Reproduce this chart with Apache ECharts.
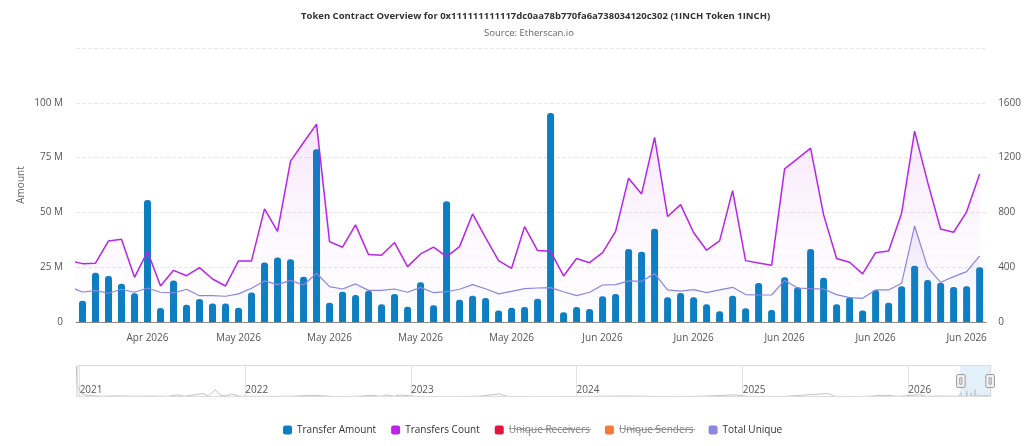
<!DOCTYPE html>
<html>
<head>
<meta charset="utf-8">
<title>1INCH token overview</title>
<script src="https://cdn.jsdelivr.net/npm/echarts@6/dist/echarts.min.js"></script>
<style>
  html, body { margin: 0; padding: 0; background: #fff; }
  #chart { width: 1024px; height: 446px; }
</style>
</head>
<body>
<div id="chart"></div>
<script>
// daily values, first entry is the day before the visible window (only its lines show, clipped at the edge)
const firstDay = '2026-04-21';

const transferAmount = [null, // million
  9.7, 22.5, 21.0, 17.4, 13.1, 55.7, 6.4, 18.9, 7.9, 10.5,
  8.4, 8.4, 6.5, 13.5, 27.2, 29.4, 28.6, 20.7, 78.8, 8.8,
  13.8, 12.3, 14.3, 8.1, 12.8, 7.0, 18.1, 7.6, 55.1, 10.2,
  12.0, 11.0, 5.2, 6.5, 6.9, 10.6, 95.3, 4.4, 6.8, 5.9,
  11.7, 12.8, 33.3, 32.0, 42.5, 11.3, 13.2, 11.3, 8.1, 4.9,
  12.0, 6.3, 17.8, 5.5, 20.4, 15.8, 33.3, 20.2, 8.1, 11.3,
  5.2, 14.6, 8.8, 16.3, 25.7, 19.2, 17.9, 16.0, 16.3, 25.0];

const transfersCount = [446,
  426, 429, 592, 604, 326, 514, 263, 377, 338, 397,
  314, 263, 446, 446, 826, 662, 1174, 1310, 1444, 587,
  546, 709, 492, 487, 580, 404, 497, 546, 477, 550,
  789, 616, 448, 392, 696, 521, 516, 336, 463, 433,
  506, 662, 1050, 935, 1347, 770, 857, 653, 524, 592,
  959, 448, 431, 414, 1118, 1193, 1269, 782, 463, 436,
  351, 506, 519, 794, 1393, 1021, 679, 655, 804, 1081];

const totalUnique = [257,
  219, 229, 210, 239, 217, 248, 217, 212, 239, 192,
  192, 188, 205, 246, 300, 273, 304, 270, 356, 258,
  241, 278, 231, 231, 241, 217, 253, 214, 221, 239,
  273, 243, 205, 224, 243, 248, 251, 221, 192, 217,
  270, 273, 300, 297, 353, 234, 226, 236, 214, 234,
  253, 200, 197, 197, 304, 248, 243, 241, 200, 178,
  173, 234, 234, 283, 701, 399, 290, 331, 368, 482];

// hidden in the legend of the original, no data shown
const uniqueReceivers = [];
const uniqueSenders = [];

// overview strip (navigator), sparse readings of transfer amount, million
const navDates = ['2020-12-25', '2020-12-27', '2021-01-05', '2021-01-20', '2021-02-20', '2021-03-25',
  '2021-05-01', '2021-06-10', '2021-07-15', '2021-08-03', '2021-08-20', '2021-09-30', '2021-10-12',
  '2021-10-27', '2021-11-08', '2021-11-20', '2021-12-02', '2021-12-20', '2022-02-15', '2022-04-10',
  '2022-05-30', '2022-07-15', '2022-09-01', '2022-10-09', '2022-10-25', '2022-11-10', '2022-11-25',
  '2022-12-08', '2023-01-15', '2023-04-01', '2023-06-01', '2023-07-15', '2023-08-01', '2023-10-15',
  '2024-01-20', '2024-04-15', '2024-07-10', '2024-10-01', '2024-12-15', '2025-01-10', '2025-04-01',
  '2025-07-08', '2025-07-25', '2025-10-01', '2025-11-05', '2025-11-20', '2025-12-10', '2026-01-26',
  '2026-02-10', '2026-03-15'];
const navAmounts = [390, 150, 40, 18, 10, 14,
  9, 12, 8, 28, 10, 45, 12,
  95, 20, 14, 38, 10, 8, 9,
  22, 7, 8, 22, 8, 28, 9,
  26, 7, 6, 10, 40, 8, 6,
  8, 12, 7, 9, 28, 8, 7,
  45, 8, 7, 22, 20, 8, 30,
  9, 12];
const navStart = '2020-12-24';
const navEnd = '2026-06-30';

const colors = {
  amount: '#0b7fc1',
  count: '#b924e6',
  receivers: '#e4163f',
  senders: '#f47a3c',
  unique: '#8a87e0'
};

// build the day categories
const days = [];
(function () {
  const d = new Date(firstDay + 'T00:00:00Z');
  for (let i = 0; i < transferAmount.length; i++) {
    days.push(d.toISOString().slice(0, 10));
    d.setUTCDate(d.getUTCDate() + 1);
  }
})();

const monthNames = ['Jan', 'Feb', 'Mar', 'Apr', 'May', 'Jun', 'Jul', 'Aug', 'Sep', 'Oct', 'Nov', 'Dec'];
function monthLabel(s) {
  return monthNames[parseInt(s.slice(5, 7), 10) - 1] + ' ' + s.slice(0, 4);
}
function weekly(idx) {
  return idx % 7 === 6;
}

const navData = navDates.map((d, i) => [d, navAmounts[i]]);
days.forEach((d, i) => {
  if (transferAmount[i] != null) navData.push([d, transferAmount[i]]);
});

const t0 = Date.parse(navStart);
const t1 = Date.parse(navEnd);
const winStart = (Date.parse(days[1]) - t0) / (t1 - t0) * 100;
const winEnd = (Date.parse(days[days.length - 1]) - t0) / (t1 - t0) * 100;

const hiddenNames = ['Unique Receivers', 'Unique Senders'];
function strike(s) {
  return s.split('').map(c => c + '\u0336').join('');
}

function areaFade(hex, a) {
  const r = parseInt(hex.slice(1, 3), 16), g = parseInt(hex.slice(3, 5), 16), b = parseInt(hex.slice(5, 7), 16);
  const c = alpha => 'rgba(' + r + ',' + g + ',' + b + ',' + alpha + ')';
  return new echarts.graphic.LinearGradient(0, 0, 0, 1, [
    { offset: 0, color: c(a) },
    { offset: 0.6, color: c(a * 0.25) },
    { offset: 1, color: c(0) }
  ]);
}

const chart = echarts.init(document.getElementById('chart'));

chart.setOption({
  animation: false,
  textStyle: { fontFamily: 'Open Sans' },
  title: [{
    text: 'Token Contract Overview for 0x111111111117dc0aa78b770fa6a738034120c302 (1INCH Token 1INCH)',
    left: 296,
    top: 6,
    textStyle: { fontSize: 9.5, fontWeight: 'bold', color: '#333' }
  }, {
    text: 'Source: Etherscan.io',
    left: 479,
    top: 23,
    textStyle: { fontSize: 9.5, fontWeight: 'normal', color: '#666' }
  }],
  legend: {
    data: ['Transfer Amount', 'Transfers Count', 'Unique Receivers', 'Unique Senders', 'Total Unique'],
    left: 278,
    bottom: 6,
    icon: 'roundRect',
    itemWidth: 9,
    itemHeight: 9,
    itemGap: 15,
    textStyle: {
      fontSize: 10,
      color: '#333',
      rich: { off: { fontSize: 10, color: '#888', fontFamily: "'Noto Sans', 'DejaVu Sans', sans-serif" } }
    },
    formatter: name => hiddenNames.indexOf(name) >= 0 ? '{off|' + strike(name) + '}' : name
  },
  grid: [
    { left: 76, right: 34, top: 48, bottom: 124 },
    { left: 76, right: 34, top: 366, height: 31 }
  ],
  xAxis: [{
    type: 'category',
    data: days,
    boundaryGap: true,
    axisLine: { lineStyle: { color: '#8a8a8a' } },
    axisTick: { alignWithLabel: true, interval: weekly, length: 5, lineStyle: { color: '#8a8a8a' } },
    axisLabel: { interval: weekly, formatter: monthLabel, color: '#555', fontSize: 10, margin: 11 }
  }, {
    type: 'time',
    gridIndex: 1,
    min: navStart,
    max: navEnd,
    minInterval: 365 * 24 * 3600 * 1000,
    maxInterval: 366 * 24 * 3600 * 1000,
    axisLine: { show: false },
    axisTick: { show: false },
    splitLine: { show: true, lineStyle: { color: '#e2e2e2' } },
    axisLabel: {
      inside: true,
      formatter: '{yyyy}',
      align: 'left',
      margin: 2,
      color: '#555',
      fontSize: 10,
      showMinLabel: false,
      showMaxLabel: false
    }
  }, {
    type: 'value',
    gridIndex: 1,
    min: 0,
    max: 100,
    show: false
  }],
  yAxis: [{
    type: 'value',
    min: 0,
    max: 125,
    interval: 25,
    name: 'Amount',
    nameLocation: 'middle',
    nameGap: 50,
    nameMoveOverlap: false,
    nameTextStyle: { color: '#666', fontSize: 10 },
    axisLabel: {
      color: '#555',
      fontSize: 10,
      margin: 13,
      showMaxLabel: false,
      formatter: v => v === 0 ? '0' : v + ' M'
    },
    splitLine: { lineStyle: { type: 'dashed', color: '#e8e8e8' } }
  }, {
    type: 'value',
    min: 0,
    max: 2000,
    interval: 400,
    axisLabel: { color: '#555', fontSize: 10, margin: 12, showMaxLabel: false, formatter: v => String(v) },
    splitLine: { show: false }
  }, {
    type: 'value',
    gridIndex: 1,
    min: 0,
    max: 400,
    show: false
  }],
  dataZoom: [{
    type: 'inside',
    xAxisIndex: 0,
    startValue: 1,
    endValue: days.length - 1,
    filterMode: 'none',
    zoomOnMouseWheel: false,
    moveOnMouseMove: false,
    moveOnMouseWheel: false
  }, {
    type: 'slider',
    xAxisIndex: 2,
    start: winStart,
    end: winEnd,
    left: 76,
    right: 34,
    top: 365,
    height: 32,
    showDataShadow: false,
    showDetail: false,
    brushSelect: false,
    moveHandleSize: 0,
    backgroundColor: 'rgba(0,0,0,0)',
    borderColor: '#dddddd',
    fillerColor: 'rgba(175,212,240,0.35)',
    handleIcon: 'path://M1,0h6a1,1,0,0,1,1,1v10a1,1,0,0,1,-1,1h-6a1,1,0,0,1,-1,-1v-10a1,1,0,0,1,1,-1z M3,3h2v6h-2z',
    handleSize: '40%',
    handleStyle: { color: '#f4f4f4', borderColor: '#999', borderWidth: 1 }
  }],
  series: [{
    name: 'Transfer Amount',
    type: 'bar',
    data: transferAmount,
    barWidth: 7,
    itemStyle: { color: colors.amount, borderRadius: [3, 3, 0, 0] },
    z: 2
  }, {
    name: 'Transfers Count',
    type: 'line',
    yAxisIndex: 1,
    data: transfersCount,
    showSymbol: false,
    lineStyle: { color: colors.count, width: 1.5 },
    itemStyle: { color: colors.count },
    areaStyle: { color: areaFade(colors.count, 0.15) },
    z: 4
  }, {
    name: 'Unique Receivers',
    type: 'line',
    yAxisIndex: 1,
    data: uniqueReceivers,
    itemStyle: { color: colors.receivers }
  }, {
    name: 'Unique Senders',
    type: 'line',
    yAxisIndex: 1,
    data: uniqueSenders,
    itemStyle: { color: colors.senders }
  }, {
    name: 'Total Unique',
    type: 'line',
    yAxisIndex: 1,
    data: totalUnique,
    showSymbol: false,
    lineStyle: { color: colors.unique, width: 1.2 },
    itemStyle: { color: colors.unique },
    areaStyle: { color: areaFade(colors.unique, 0.22) },
    z: 3
  }, {
    name: 'overview',
    type: 'line',
    xAxisIndex: 1,
    yAxisIndex: 2,
    data: navData,
    showSymbol: false,
    silent: true,
    lineStyle: { color: '#b5b5b5', width: 0.8 },
    itemStyle: { color: '#b5b5b5' }
  }]
});
</script>
</body>
</html>
